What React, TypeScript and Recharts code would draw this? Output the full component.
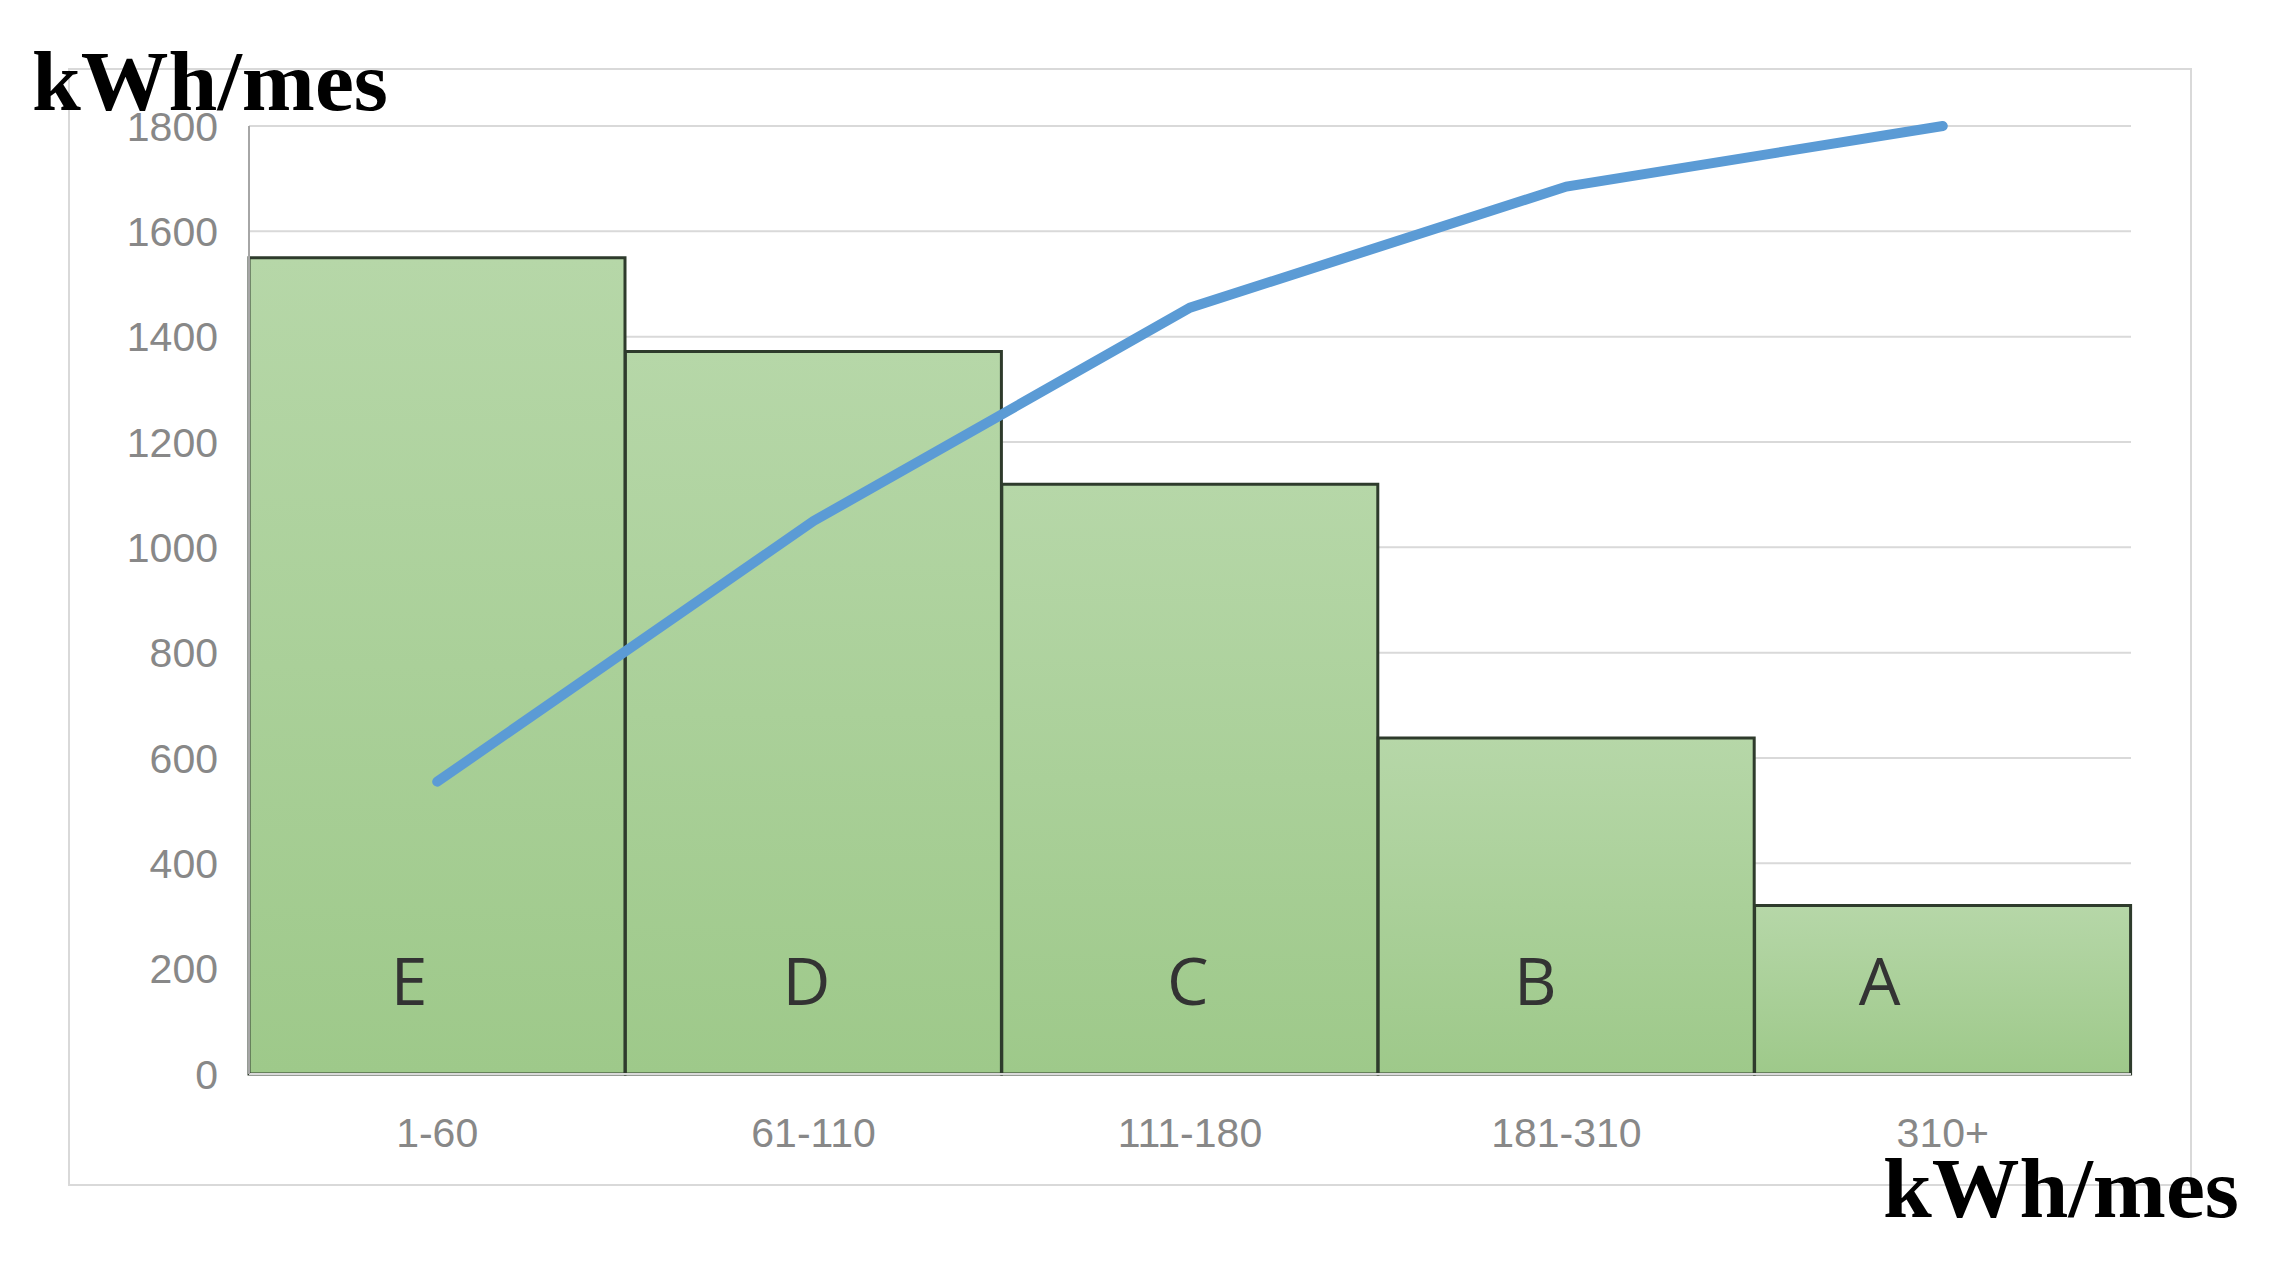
import React from "react"
import {
  ComposedChart,
  Bar,
  Line,
  XAxis,
  YAxis,
  CartesianGrid,
  LabelList,
} from "recharts"

const ranges = ["1-60", "61-110", "111-180", "181-310", "310+"]
const grades = ["E", "D", "C", "B", "A"]
const households = [1550, 1372, 1120, 638, 320]
const cumulative = [555, 1050, 1455, 1685, 1800]
const yTicks = [0, 200, 400, 600, 800, 1000, 1200, 1400, 1600, 1800]

// horizontal nudge of the grade letters, as placed in the original
const gradeShift = [-28, -7, -2, -31, -63]

const data = ranges.map((r, i) => ({
  range: r,
  grade: grades[i],
  households: households[i],
  cumulative: cumulative[i],
}))

const W = 2273
const H = 1262

const tickStyle = { fill: "#888888", fontSize: 41, fontFamily: "'Liberation Sans', Arial, sans-serif" }

function GradeLabel(props: any) {
  const { x, y, width, height, value, index } = props
  const cx = x + width / 2 + gradeShift[index]
  return (
    <text
      x={cx}
      y={y + height - 69}
      textAnchor="middle"
      fontFamily="'Open Sans', sans-serif"
      fontSize={66}
      fill="#333333"
    >
      {value}
    </text>
  )
}

function UnitLabel({ x, y }: { x: number; y: number }) {
  return (
    <text
      x={x}
      y={y}
      fontFamily="'Liberation Serif', serif"
      fontWeight="bold"
      fontSize={85}
      fill="#000"
      textLength={356}
      lengthAdjust="spacingAndGlyphs"
    >
      kWh/mes
    </text>
  )
}

export default function App() {
  return (
    <div style={{ position: "absolute", left: 0, top: 0, width: W, height: H, background: "#fff" }}>
      <div
        style={{
          position: "absolute",
          left: 68,
          top: 68,
          width: 2124,
          height: 1118,
          border: "2px solid #d9d9d9",
          boxSizing: "border-box",
        }}
      />
      <div style={{ position: "absolute", left: 0, top: 0 }}>
        <ComposedChart
          width={W}
          height={H}
          data={data}
          barCategoryGap={0}
          margin={{ top: 126, right: 142, bottom: 128, left: 149 }}
        >
          <defs>
            <linearGradient id="barFill" x1="0" y1="0" x2="0" y2="1">
              <stop offset="0%" stopColor="#b6d7a8" />
              <stop offset="100%" stopColor="#9ec98a" />
            </linearGradient>
          </defs>
          <CartesianGrid vertical={false} stroke="#d9d9d9" strokeWidth={2} />
          <XAxis
            dataKey="range"
            height={60}
            axisLine={{ stroke: "#d9d9d9", strokeWidth: 2 }}
            tickLine={false}
            tickMargin={38}
            tick={tickStyle}
          />
          <YAxis
            width={100}
            domain={[0, 1800]}
            ticks={yTicks}
            interval={0}
            axisLine={{ stroke: "#a6a6a6", strokeWidth: 2 }}
            tickLine={false}
            tickMargin={25}
            tick={tickStyle}
          />
          <Bar
            dataKey="households"
            fill="url(#barFill)"
            stroke="#2e3b2c"
            strokeWidth={3}
            isAnimationActive={false}
          >
            <LabelList dataKey="grade" content={<GradeLabel />} />
          </Bar>
          <Line
            dataKey="cumulative"
            type="linear"
            stroke="#5b9bd5"
            strokeWidth={10}
            strokeLinecap="round"
            dot={false}
            activeDot={false}
            isAnimationActive={false}
          />
        </ComposedChart>
      </div>
      <svg width={W} height={H} style={{ position: "absolute", left: 0, top: 0, pointerEvents: "none" }}>
        <UnitLabel x={32} y={110} />
        <UnitLabel x={1883} y={1217} />
      </svg>
    </div>
  )
}
